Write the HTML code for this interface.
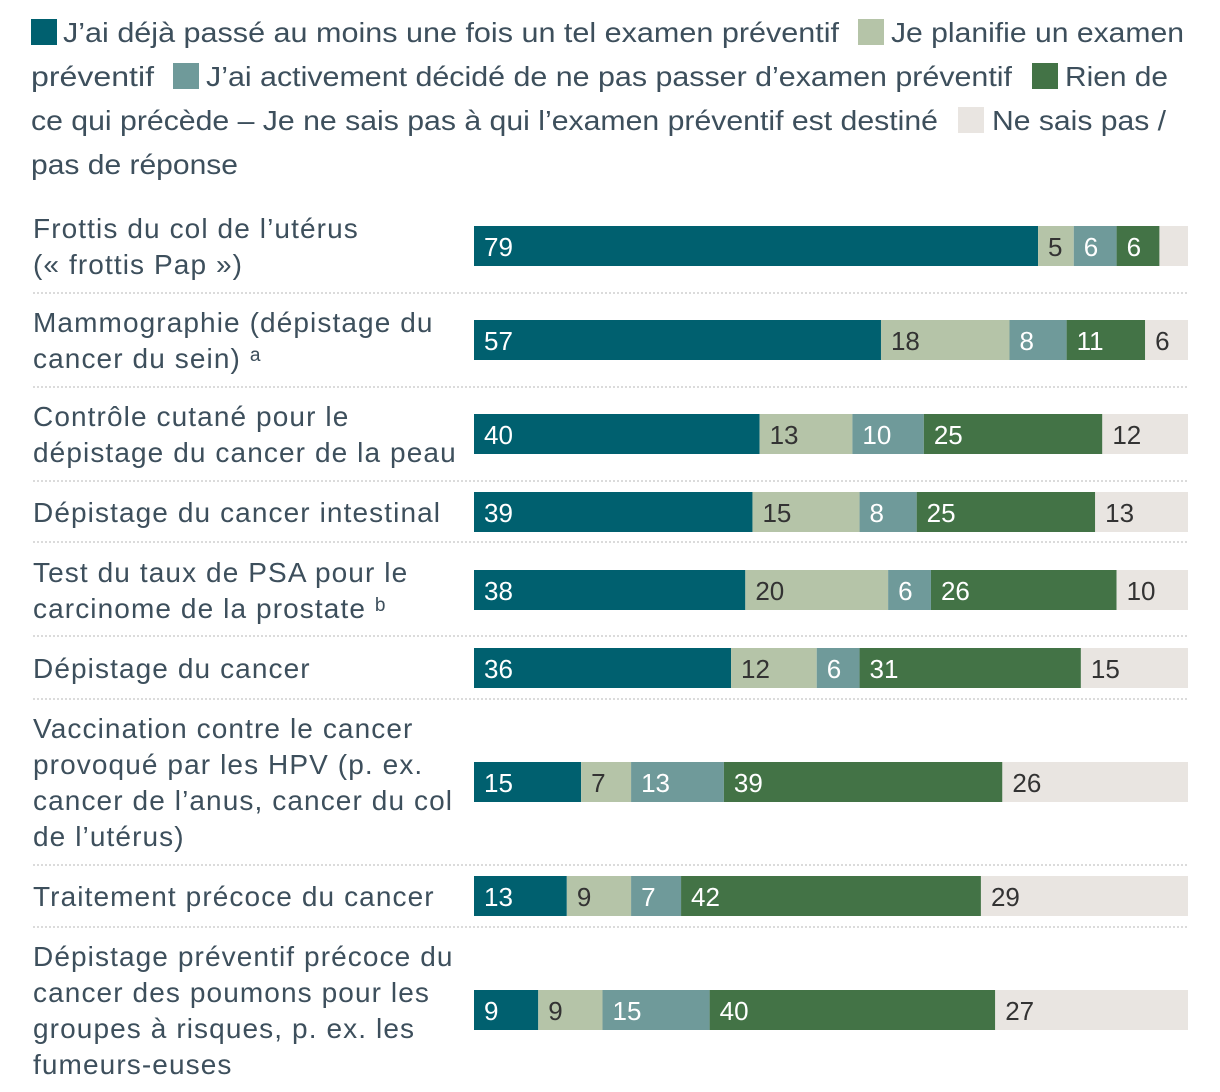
<!DOCTYPE html>
<html><head><meta charset="utf-8">
<style>
html,body{margin:0;padding:0;background:#fff;}
svg{display:block;font-family:"Liberation Sans Narrow","Liberation Sans",sans-serif;}
</style></head>
<body>
<svg id="chart" width="1220" height="1092" viewBox="0 0 1220 1092">
<g id="legend" fill="#3d4f5c" font-size="28">
  <rect x="31" y="19" width="26" height="26" fill="#00606f"/>
  <text x="63" y="42" textLength="776" lengthAdjust="spacingAndGlyphs">J’ai déjà passé au moins une fois un tel examen préventif</text>
  <rect x="858" y="19" width="26" height="26" fill="#b5c4a8"/>
  <text x="891" y="42" textLength="293" lengthAdjust="spacingAndGlyphs">Je planifie un examen</text>
  <text x="31" y="86" textLength="123" lengthAdjust="spacingAndGlyphs">préventif</text>
  <rect x="173" y="63" width="26" height="26" fill="#6f9a9a"/>
  <text x="206" y="86" textLength="806" lengthAdjust="spacingAndGlyphs">J’ai activement décidé de ne pas passer d’examen préventif</text>
  <rect x="1032" y="63" width="26" height="26" fill="#437346"/>
  <text x="1065" y="86" textLength="103" lengthAdjust="spacingAndGlyphs">Rien de</text>
  <text x="31" y="130" textLength="907" lengthAdjust="spacingAndGlyphs">ce qui précède – Je ne sais pas à qui l’examen préventif est destiné</text>
  <rect x="958" y="107" width="26" height="26" fill="#e9e5e1"/>
  <text x="992" y="130" textLength="174" lengthAdjust="spacingAndGlyphs">Ne sais pas /</text>
  <text x="31" y="174" textLength="207" lengthAdjust="spacingAndGlyphs">pas de réponse</text>
</g>
<g id="rows"></g>
</svg>
<script>
const categories = [
  ["Frottis du col de l’utérus","(« frottis Pap »)"],
  ["Mammographie (dépistage du","cancer du sein) ᵃ"],
  ["Contrôle cutané pour le","dépistage du cancer de la peau"],
  ["Dépistage du cancer intestinal"],
  ["Test du taux de PSA pour le","carcinome de la prostate ᵇ"],
  ["Dépistage du cancer"],
  ["Vaccination contre le cancer","provoqué par les HPV (p. ex.","cancer de l’anus, cancer du col","de l’utérus)"],
  ["Traitement précoce du cancer"],
  ["Dépistage préventif précoce du","cancer des poumons pour les","groupes à risques, p. ex. les","fumeurs-euses"]
];
const done    = [79,57,40,39,38,36,15,13,9];
const plan    = [5,18,13,15,20,12,7,9,9];
const decided = [6,8,10,8,6,6,13,7,15];
const none    = [6,11,25,25,26,31,39,42,40];
const dontKnow= [4,6,12,13,10,15,26,29,27];
const seriesColors = ["#00606f","#b5c4a8","#6f9a9a","#437346","#e9e5e1"];
const textColors = ["#fff","#333","#fff","#fff","#333"];
const seriesNames = ["done","plan","decided","none","dont-know"];

const NS="http://www.w3.org/2000/svg";
const x0=474, x1=1188;
const xScale=v=>v*(x1-x0)/100;
const rowCenters=[246,340,434,512,590,668,782,896,1010];
const sepY=[293,387,481,542,636,699,865,927];
const lineH=36;
const g=document.getElementById('rows');
function mk(tag,attrs){const e=document.createElementNS(NS,tag);for(const k in attrs)e.setAttribute(k,attrs[k]);return e;}
const series=[done,plan,decided,none,dontKnow];
categories.forEach((lines,i)=>{
  const cy=rowCenters[i];
  const n=lines.length;
  const startY=cy-(n-1)*lineH/2+10;
  lines.forEach((ln,j)=>{
    const t=mk('text',{x:33,y:startY+j*lineH,'font-size':28,fill:'#3d4f5c','letter-spacing':'1.1'});
    
    
    t.textContent=ln;
    g.appendChild(t);
  });
  let acc=0;
  series.forEach((s,k)=>{
    const v=s[i];
    const r=mk('rect',{x:x0+xScale(acc),y:cy-20,width:xScale(v),height:40,fill:seriesColors[k]});
    
    
    g.appendChild(r);
    if(v>=5){
      const t=mk('text',{x:x0+xScale(acc)+10,y:cy+10,'font-size':26,fill:textColors[k]});
      
      
      t.textContent=v;
      g.appendChild(t);
    }
    acc+=v;
  });
  if(i<categories.length-1){
    const sy=sepY[i];
    const l=mk('line',{x1:33,x2:1188,y1:sy,y2:sy,stroke:'#cfcfcf','stroke-width':1.5,'stroke-dasharray':'2 2'});
    
    
    g.appendChild(l);
  }
});
</script>
</body></html>
